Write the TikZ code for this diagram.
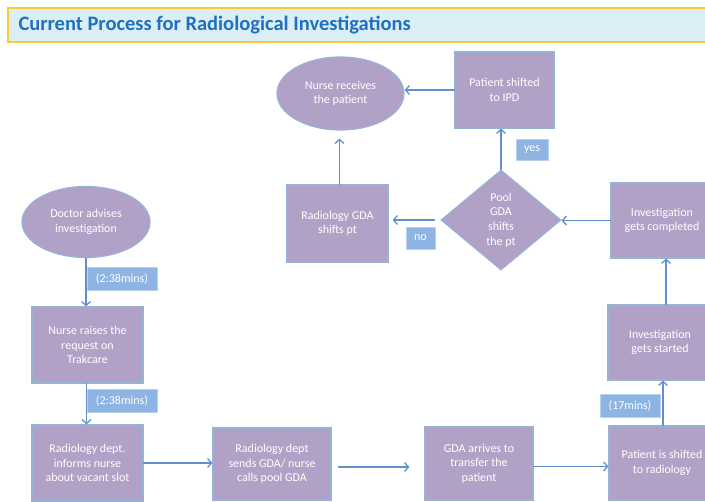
\documentclass[tikz,border=0pt]{standalone}
\usepackage{fontspec}
\setmainfont{Carlito}
\usetikzlibrary{arrows.meta,shapes.geometric}

\definecolor{boxpurple}{RGB}{178,161,199}
\definecolor{edgeblue}{RGB}{149,179,215}
\definecolor{flowblue}{RGB}{98,142,204}
\definecolor{tagblue}{RGB}{141,180,226}
\definecolor{titlefill}{RGB}{219,238,244}
\definecolor{titleedge}{RGB}{252,200,60}
\definecolor{titletext}{RGB}{31,112,193}

\begin{document}
\begin{tikzpicture}[x=1pt,y=-1pt,>={Straight Barb[length=4pt,width=9pt]},line cap=round,
	stepbox/.style={rectangle,draw=edgeblue,line width=1.2pt,fill=boxpurple,
		text=white,align=center,inner sep=2pt,
		font=\fontsize{12}{14.6}\selectfont},
	oval/.style={stepbox,ellipse},
	choice/.style={stepbox,diamond,inner sep=0pt},
	timetag/.style={rectangle,draw=tagblue!60!white,line width=0.8pt,fill=tagblue,
		text=white,inner sep=0pt,font=\fontsize{12}{14}\selectfont},
	flow/.style={->,draw=flowblue,line width=1.3pt}]
	
	% ===== canvas in pixels, y downwards =====
	\useasboundingbox (0,0) rectangle (705,502);
	\clip (0,0) rectangle (705,502);
	
	% ---- title bar ----
	\draw[titleedge,line width=2pt,fill=titlefill] (8,8) rectangle (715,42);
	\node[anchor=west,text=titletext,font=\fontsize{20.5}{22}\selectfont\bfseries]
	(title) at (15,25) {Current Process for Radiological Investigations};
	
	% ---- left column ----
	\node[oval,minimum width=128,minimum height=71] (doctor) at (86,222)
	{Doctor advises\\investigation};
	\node[stepbox,minimum width=111,minimum height=76] (raise) at (87.5,345)
	{Nurse raises the\\request on\\Trakcare};
	\node[stepbox,minimum width=111,minimum height=76] (inform) at (87.5,463)
	{Radiology dept.\\informs nurse\\about vacant slot};
	
	% ---- bottom row ----
	\node[stepbox,minimum width=118,minimum height=72] (sends) at (272,464)
	{Radiology dept\\sends GDA/ nurse\\calls pool GDA};
	\node[stepbox,minimum width=108,minimum height=73] (arrives) at (479,463.5)
	{GDA arrives to\\transfer the\\patient};
	\node[stepbox,minimum width=106,minimum height=74] (shifted) at (662,463)
	{Patient is shifted\\to radiology};
	
	% ---- right column ----
	\node[stepbox,minimum width=104,minimum height=75] (started) at (660,342.5)
	{Investigation\\gets started};
	\node[stepbox,minimum width=102,minimum height=75] (completed) at (662,220.5)
	{Investigation\\gets completed};
	
	% ---- decision and upper part ----
	\node[choice,minimum width=120,minimum height=100] (pool) at (501,220)
	{Pool\\GDA\\shifts\\the pt};
	\node[stepbox,minimum width=101,minimum height=77] (rgda) at (337.5,223.5)
	{Radiology GDA\\shifts pt};
	\node[stepbox,minimum width=99,minimum height=76] (ipd) at (504.5,90)
	{Patient shifted\\to IPD};
	\node[oval,minimum width=127,minimum height=73] (receive) at (340.5,93.5)
	{Nurse receives\\the patient};
	
	% ---- time and answer tags ----
	\node[timetag,minimum width=70,minimum height=23] (tag1) at (122,278.5) {(2:38mins)};
	\node[timetag,minimum width=70,minimum height=23] (tag2) at (122,400.5) {(2:38mins)};
	\node[timetag,minimum width=60,minimum height=23] (tag3) at (630,405.5) {(17mins)};
	\node[timetag,minimum width=32,minimum height=21] (yes) at (532,149.5) {yes};
	\node[timetag,minimum width=29,minimum height=22] (no) at (420.5,238) {no};
	
	% ---- connectors ----
	\draw[flow] (doctor.south) -- (doctor.south |- raise.north);
	\draw[flow] ([xshift=-1pt]raise.south) -- ([xshift=-1pt]inform.north);
	\draw[flow] (inform.east) -- (inform.east -| sends.west);
	\draw[flow,shorten <=7pt,shorten >=15pt] ([yshift=-3pt]sends.east) -- ([yshift=-3pt]sends.east -| arrives.west);
	\draw[flow] ([yshift=-3pt]arrives.east) -- ([yshift=-3pt]arrives.east -| shifted.west);
	\draw[flow] ([xshift=1pt]shifted.north) -- ([xshift=1pt]shifted.north |- started.south);
	\draw[flow] ([xshift=6pt]started.north) -- ([xshift=6pt]started.north |- completed.south);
	\draw[flow] (completed.west) -- (completed.west -| pool.east);
	\draw[flow] (pool.north) -- (pool.north |- ipd.south);
	\draw[flow] (ipd.west) -- (ipd.west -| receive.east);
	\draw[flow,shorten <=6pt,shorten >=4pt] (pool.west) -- (pool.west -| rgda.east);
	\draw[flow,shorten >=8pt] ([xshift=2pt]rgda.north) -- ([xshift=2pt]rgda.north |- receive.south);
	
\end{tikzpicture}
\end{document}
